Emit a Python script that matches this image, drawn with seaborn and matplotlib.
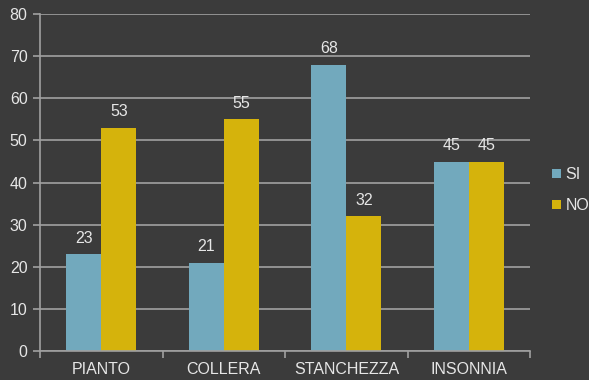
import matplotlib
matplotlib.use("Agg")
import matplotlib.pyplot as plt
import seaborn as sns
import pandas as pd
from matplotlib.patches import Patch

categories = ["PIANTO", "COLLERA", "STANCHEZZA", "INSONNIA"]
si_values = [23, 21, 68, 45]
no_values = [53, 55, 32, 45]
series = ["SI", "NO"]
yticks = [0, 10, 20, 30, 40, 50, 60, 70, 80]

plt.rcParams["font.family"] = ["Liberation Sans", "DejaVu Sans"]

bg = "#3b3b3b"
grid_c = "#a0a0a0"
text_c = "#e6e6e6"
colors = {"SI": "#72a9bd", "NO": "#d5b30c"}

df = pd.DataFrame({
    "cat": categories * 2,
    "serie": ["SI"] * 4 + ["NO"] * 4,
    "val": si_values + no_values,
})

fig = plt.figure(figsize=(5.89, 3.80), dpi=100, facecolor=bg)
ax = fig.add_axes([0.068, 0.076, 0.832, 0.887])
ax.set_facecolor(bg)

sns.barplot(data=df, x="cat", y="val", hue="serie", order=categories,
            hue_order=series, palette=colors, width=0.57, saturation=1,
            ax=ax, legend=False, errorbar=None)

for cont in ax.containers:
    ax.bar_label(cont, labels=[f"{int(v)}" for v in cont.datavalues],
                 padding=6, color=text_c, fontsize=11.5)

ax.set_ylim(0, 80)
ax.set_xlim(-0.5, 3.5)
ax.set_yticks(yticks)
ax.set_yticklabels([str(t) for t in yticks])
ax.yaxis.grid(True, color=grid_c, linewidth=1.2)
ax.set_axisbelow(True)
for s in ["top", "right"]:
    ax.spines[s].set_visible(False)
ax.spines["left"].set_color(grid_c)
ax.spines["bottom"].set_color(grid_c)
ax.spines["left"].set_linewidth(1.2)
ax.spines["bottom"].set_linewidth(1.2)
ax.tick_params(axis="y", colors=grid_c, labelcolor=text_c, labelsize=11.5,
               length=5, width=1.2, pad=4)
ax.tick_params(axis="x", which="major", length=0, labelcolor=text_c,
               labelsize=11.5, pad=8)
ax.set_xticks([-0.5, 0.5, 1.5, 2.5, 3.5], minor=True)
ax.tick_params(axis="x", which="minor", length=5, width=1.2, colors=grid_c)
ax.set_xlabel("")
ax.set_ylabel("")

handles = [Patch(facecolor=colors[s], edgecolor="none", label=s) for s in series]
leg = fig.legend(handles=handles, loc="center left", bbox_to_anchor=(0.938, 0.5),
                 frameon=False, fontsize=11.5, handlelength=0.55, handleheight=0.55,
                 handletextpad=0.25, labelspacing=1.0, borderaxespad=0,
                 borderpad=0)
for t in leg.get_texts():
    t.set_color(text_c)

fig.savefig("out.png", dpi=100, facecolor=bg)
